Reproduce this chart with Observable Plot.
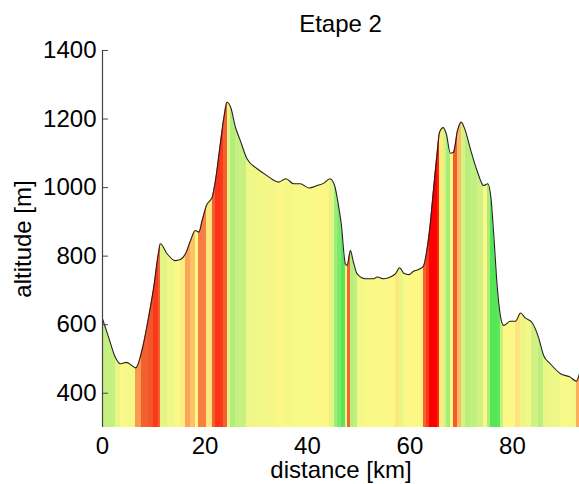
<!DOCTYPE html>
<html><head><meta charset="utf-8">
<script src="https://cdn.jsdelivr.net/npm/d3@7"></script>
<script src="https://cdn.jsdelivr.net/npm/@observablehq/plot@0.6"></script>
<style>
body{margin:0;background:#fff;}
#title{position:relative;width:579px;height:36px;font:24px "Liberation Sans",Arial,sans-serif;color:#000;}
#title span{position:absolute;left:102px;width:477px;top:12px;text-align:center;line-height:24px;white-space:nowrap;}
</style></head><body>
<div id="title"><span id="t"></span></div>
<div id="chart"></div>
<script>
const chartTitle = "Etape 2";
const xLabel = "distance [km]";
const yLabel = "altitude [m]";
const distanceKm = [0, 1.2, 2.5, 3.5, 4.7, 5.7, 6.5, 7.7, 9.0, 10.0, 10.9, 11.3, 12.6, 14.2, 15.2, 16.2, 17.2, 18.1, 18.8, 19.45, 20.3, 21.4, 22.05, 23.0, 23.7, 24.3, 25.0, 25.95, 26.9, 28.2, 30.2, 32.1, 34.4, 35.8, 37.3, 38.6, 40.3, 41.9, 43.2, 44.4, 45.3, 45.9, 46.6, 47.4, 47.75, 48.4, 48.9, 49.7, 51.3, 52.95, 53.6, 54.9, 56.2, 57.2, 58.0, 58.8, 59.8, 60.7, 62.0, 62.7, 63.2, 63.9, 64.65, 65.3, 65.8, 66.5, 67.1, 67.9, 68.5, 69.3, 70.0, 70.8, 71.8, 73.1, 74.4, 75.2, 75.8, 76.4, 77.0, 77.7, 78.3, 79.6, 80.6, 81.6, 82.5, 83.8, 85.1, 86.1, 87.4, 89.4, 91.3, 92.5, 93.1];
const altitudeM = [617, 563, 505, 486, 490, 481, 474, 525, 622, 709, 807, 836, 807, 787, 790, 807, 846, 875, 870, 904, 948, 972, 1021, 1128, 1205, 1249, 1235, 1176, 1137, 1084, 1055, 1035, 1016, 1026, 1011, 1011, 999, 1006, 1013, 1026, 1006, 962, 894, 778, 773, 816, 787, 748, 734, 734, 739, 734, 739, 749, 766, 750, 746, 756, 763, 773, 807, 884, 1001, 1099, 1162, 1175, 1157, 1100, 1103, 1167, 1191, 1167, 1113, 1050, 1006, 1011, 972, 855, 719, 622, 598, 610, 610, 634, 620, 607, 563, 510, 486, 457, 447, 435, 457];
const xTicks = [0, 20, 40, 60, 80];
const yTicks = [400, 600, 800, 1000, 1200, 1400];
const xDomain = [0, 93.1];
const yDomain = [300, 1400];
const slopeDomain = [-15, -10, -6, -3.5, -2, -0.5, 1, 2.5, 4, 6, 9, 12, 15];
const slopeColors = ["#55e655", "#78ea6c", "#b4ee7c", "#cef282", "#e8f686", "#f8f988", "#fcf886", "#ffe07a", "#fca055", "#f46a34", "#f4542a", "#ff2a10", "#ff0000"];

document.getElementById("t").textContent = chartTitle;

const profile = distanceKm.map((d, i) => ({d, alt: altitudeM[i]}));
const segments = profile.slice(1).map((p, i) => ({
  x1: profile[i].d,
  x2: p.d,
  slope: (p.alt - profile[i].alt) / ((p.d - profile[i].d) * 1000) * 100
}));

const tickShape = {draw(context, l) { context.moveTo(0, 0); context.lineTo(0, -l); }};
const curve = "monotone-x";
const chart = Plot.plot({
  width: 579,
  height: 448,
  marginTop: 14,
  marginBottom: 57,
  marginLeft: 102,
  marginRight: 0,
  style: {fontFamily: "'Liberation Sans', Arial, sans-serif", fontSize: "24px", background: "white", color: "black"},
  x: {domain: xDomain},
  y: {domain: yDomain},
  color: {type: "linear", domain: slopeDomain, range: slopeColors, clamp: true},
  marks: [
    Plot.rect(segments, {x1: "x1", x2: "x2", fill: "slope", shapeRendering: "crispEdges"}),
    Plot.areaY(profile, {x: "d", y1: "alt", y2: yDomain[1], fill: "white", curve}),
    Plot.line(profile, {x: "d", y: "alt", stroke: "#222", strokeWidth: 1.1, curve}),
    Plot.ruleX([xDomain[0]], {stroke: "#444", strokeWidth: 1.2}),
    Plot.vector(yTicks, {x: xDomain[0], y: d => d, rotate: 90, length: 5, anchor: "start", shape: tickShape, stroke: "#444", strokeWidth: 1}),
    Plot.axisY({ticks: yTicks, tickFormat: d3.format("d"), tickSize: 0, tickPadding: 6, label: null}),
    Plot.axisX({ticks: xTicks, tickFormat: d3.format("d"), tickSize: 0, tickPadding: 9, label: null}),
    Plot.text([xLabel], {frameAnchor: "bottom", lineAnchor: "middle", textAnchor: "middle", dy: 43, fontSize: 24}),
    Plot.text([yLabel], {frameAnchor: "left", lineAnchor: "middle", textAnchor: "middle", rotate: -90, dx: -79, fontSize: 24})
  ]
});
document.getElementById("chart").appendChild(chart);
</script>
</body></html>
